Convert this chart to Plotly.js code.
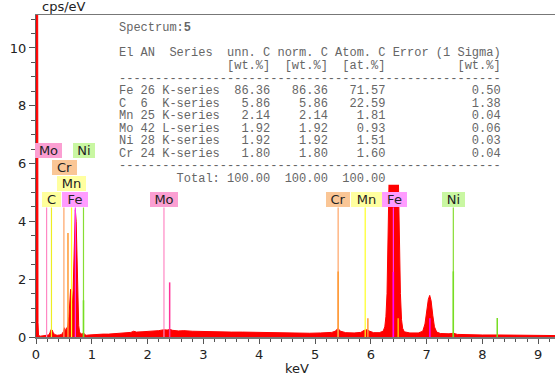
<!DOCTYPE html>
<html><head><meta charset="utf-8">
<script src="https://cdn.plot.ly/plotly-3.0.1.min.js"></script>
<style>html,body{margin:0;padding:0;background:#fff}#chart{width:555px;height:383px}</style>
</head><body><div id="chart"></div>
<script>
// ---- spectrum (keV, cps/eV) ----
const energy = [0.000,0.030,0.036,0.045,0.08,0.12,0.16,0.20,0.23,0.25,0.27,0.29,0.31,0.34,0.38,0.42,0.46,0.49,0.51,0.53,0.55,0.57,0.59,0.605,0.62,0.635,0.65,0.665,0.68,0.695,0.705,0.72,0.735,0.75,0.765,0.78,0.80,0.83,0.85,0.87,0.90,0.95,1.00,1.05,1.10,1.20,1.30,1.40,1.50,1.60,1.70,1.75,1.80,1.90,2.00,2.10,2.20,2.29,2.35,2.40,2.45,2.55,2.65,2.80,2.95,3.10,3.30,3.50,3.70,3.90,4.10,4.30,4.50,4.70,4.90,5.10,5.30,5.36,5.41,5.46,5.55,5.70,5.82,5.88,5.93,5.98,6.05,6.15,6.22,6.25,6.27,6.29,6.31,6.33,6.35,6.38,6.41,6.44,6.47,6.49,6.51,6.53,6.55,6.57,6.60,6.70,6.85,6.93,6.97,7.00,7.03,7.055,7.08,7.11,7.14,7.18,7.25,7.40,7.48,7.55,7.70,8.00,8.30,8.60,9.00,9.30];
const counts = [11.6,11.6,0.5,0.05,0.03,0.04,0.03,0.04,0.07,0.15,0.26,0.24,0.14,0.08,0.06,0.07,0.09,0.18,0.32,0.22,0.30,0.38,0.70,1.30,1.65,1.25,1.05,1.60,2.90,4.10,4.40,4.00,2.50,1.00,0.40,0.18,0.11,0.10,0.15,0.09,0.06,0.07,0.08,0.07,0.09,0.10,0.10,0.12,0.13,0.14,0.16,0.20,0.17,0.18,0.19,0.21,0.22,0.25,0.24,0.26,0.23,0.21,0.22,0.20,0.19,0.20,0.18,0.17,0.17,0.16,0.15,0.15,0.14,0.14,0.13,0.14,0.16,0.20,0.29,0.20,0.15,0.14,0.16,0.23,0.25,0.20,0.15,0.15,0.20,0.35,0.70,1.50,3.20,5.80,8.20,10.2,10.8,10.2,8.00,6.00,3.20,1.50,0.60,0.30,0.18,0.14,0.14,0.20,0.45,0.85,1.30,1.44,1.25,0.75,0.35,0.17,0.12,0.11,0.13,0.09,0.08,0.07,0.07,0.06,0.06,0.05];

// ---- element marker lines (tall, from labels) ----
const markEl     = ['Mo','C','Cr','Mn','Fe','Ni','Mo','Cr','Mn','Fe','Ni'];
const markEnergy = [0.19,0.277,0.50,0.637,0.705,0.851,2.293,5.414,5.899,6.404,7.478];
const markTop = 4.48;
// ---- intensity sub-lines ----
const subEl     = ['Cr','Ni','Mo','Cr','Cr','Mn','Fe','Fe','Ni','Ni'];
const subEnergy = [0.573,0.851,2.395,5.414,5.947,6.490,6.404,7.058,7.478,8.265];
const subHeight = [3.60,1.27,1.89,2.27,0.65,0.65,2.25,0.65,2.27,0.66];
// ---- labels ----
const labelText   = ['Mo','Ni','Cr','Mn','C','Fe','Mo','Cr','Mn','Fe','Ni'];
const labelEnergy = [0.22,0.866,0.51,0.64,0.28,0.705,2.293,5.414,5.92,6.42,7.478];
const labelLevel  = [3,3,2,1,0,0,0,0,0,0,0];
const labelWidth  = [27,22,25,29,19,26,28,24,31,25,23];
// ---- quantification table ----
const spectrumName = '5';
const tEl     = ['Fe','C','Mn','Mo','Ni','Cr'];
const tAN     = ['26','6','25','42','28','24'];
const tSeries = ['K-series','K-series','K-series','L-series','K-series','K-series'];
const tUnn    = ['86.36','5.86','2.14','1.92','1.92','1.80'];
const tNorm   = ['86.36','5.86','2.14','1.92','1.92','1.80'];
const tAtom   = ['71.57','22.59','1.81','0.93','1.51','1.60'];
const tErr    = ['0.50','1.38','0.04','0.06','0.03','0.04'];
const tTotal  = ['100.00','100.00','100.00'];

const lineColor = {Mo:'#ff88c4',C:'#eeee22',Cr:'#ffa466',Mn:'#ffff22',Fe:'#ff33ff',Ni:'#88dd33'};
const subColor  = {Mo:'#ff3399',C:'#dddd00',Cr:'#ff9933',Mn:'#ffbb00',Fe:'#ff00ff',Ni:'#77dd22'};
const boxColor  = {Mo:'#fb9fd2',C:'#ffff9c',Cr:'#fac696',Mn:'#ffffa0',Fe:'#ff9cff',Ni:'#c9f7a2'};

const traces = [{
  x: energy, y: counts, type:'scatter', mode:'lines', fill:'tozeroy',
  line:{color:'#ff0000', width:1}, fillcolor:'#ff0000', hoverinfo:'skip'
}];
markEnergy.forEach((e,i)=>{
  traces.push({x:[e,e], y:[0,markTop], type:'scatter', mode:'lines',
    line:{color:lineColor[markEl[i]], width:1.2}, hoverinfo:'skip'});
});
subEnergy.forEach((e,i)=>{
  traces.push({x:[e,e], y:[0,subHeight[i]], type:'scatter', mode:'lines',
    line:{color:subColor[subEl[i]], width:1.5}, hoverinfo:'skip'});
});

// geometry helpers (plot area: x 36..555, y 15..337)
const PL=36, PW=519, PT=15, PH=322;
const py = p => (PT+PH-p)/PH;       // pixel y -> paper
const px = p => (p-PL)/PW;          // pixel x -> paper
const levelY = [4.75,5.30,5.87,6.44];

const ann = [];
labelText.forEach((t,i)=>{
  ann.push({x:labelEnergy[i], y:levelY[labelLevel[i]], xref:'x', yref:'y', text:t,
    showarrow:false, bgcolor:boxColor[labelText[i]], borderpad:0, borderwidth:0,
    width:labelWidth[i], height:15, xanchor:'center', yanchor:'middle',
    font:{family:'DejaVu Sans, Verdana, sans-serif', size:13, color:'#222'}});
});

const nb = s => s.replace(/ /g,'\u00A0');
const padR = (s,n) => s + ' '.repeat(Math.max(0,n-s.length));
const padL = (s,n) => ' '.repeat(Math.max(0,n-s.length)) + s;
const dashes = '-'.repeat(53);
const rows = [
  ['Spectrum:<b>' + spectrumName + '</b>', 28],
  ['El AN  Series  unn. C norm. C Atom. C Error (1 Sigma)', 53],
  [padL('[wt.%]',21)+padL('[wt.%]',8)+padL('[at.%]',8)+padL('[wt.%]',16), 65.5],
  [dashes, 79]
];
tEl.forEach((el,i)=>{
  rows.push([padR(el,3)+padR(tAN[i],3)+tSeries[i]+padL(tUnn[i],7)+padL(tNorm[i],8)+padL(tAtom[i],8)+padL(tErr[i],16), 91.3+12.5*i]);
});
rows.push([dashes,166]);
rows.push([padL('Total:',14)+padL(tTotal[0],7)+padL(tTotal[1],8)+padL(tTotal[2],8), 179]);
rows.forEach(r=>{
  ann.push({x:px(116.5), y:py(r[1]), xref:'paper', yref:'paper', text:nb(r[0]), showarrow:false,
    xanchor:'left', yanchor:'middle', font:{family:'Liberation Mono, Courier New, monospace', size:12, color:'#666'}});
});
ann.push({x:px(40), y:py(7), xref:'paper', yref:'paper', text:'cps/eV', showarrow:false,
  xanchor:'left', yanchor:'middle', font:{family:'DejaVu Sans, Verdana, sans-serif', size:13, color:'#222'}});
ann.push({x:px(297), y:py(368), xref:'paper', yref:'paper', text:'keV', showarrow:false,
  xanchor:'center', yanchor:'middle', font:{family:'DejaVu Sans, Verdana, sans-serif', size:13, color:'#222'}});

const layout = {
  width:555, height:383, margin:{l:36, r:0, t:15, b:46},
  paper_bgcolor:'#fff', plot_bgcolor:'#fff', showlegend:false,
  xaxis:{range:[0,9.30], dtick:1, tick0:0, ticks:'outside', ticklen:5, tickcolor:'#555', tickwidth:1,
    showline:true, linecolor:'#777', linewidth:1.5, mirror:true, showgrid:false, zeroline:false,
    minor:{dtick:0.2, ticks:'outside', ticklen:3, tickcolor:'#555', showgrid:false},
    tickfont:{family:'DejaVu Sans, Verdana, sans-serif', size:13, color:'#222'}},
  yaxis:{range:[0,11.14], dtick:2, tick0:0, ticks:'outside', ticklen:6, tickcolor:'#555', tickwidth:1,
    showline:true, linecolor:'#666', linewidth:1, showgrid:false, zeroline:false,
    minor:{dtick:0.5, ticks:'outside', ticklen:4, tickcolor:'#555', showgrid:false},
    tickfont:{family:'DejaVu Sans, Verdana, sans-serif', size:13, color:'#222'}},
  shapes:[{type:'rect', xref:'x', yref:'y', x0:1.3, x1:8.6, y0:5.27, y1:11.0,
    fillcolor:'#fff', line:{width:0}, layer:'above'}],
  annotations: ann
};
Plotly.newPlot('chart', traces, layout, {staticPlot:true, displayModeBar:false});
</script></body></html>
